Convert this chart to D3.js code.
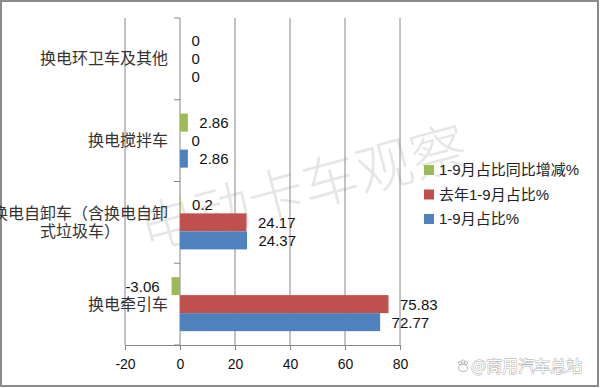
<!DOCTYPE html>
<html>
<head>
<meta charset="utf-8">
<script src="https://cdn.jsdelivr.net/npm/d3@7"></script>
<style>
  html, body { margin: 0; padding: 0; background: #fff; }
  svg { display: block; }
  text { font-family: "Liberation Sans", "Noto Sans CJK SC", sans-serif; }
  .cat { font-family: "Noto Sans CJK SC", sans-serif; }
</style>
</head>
<body>
<div id="chart"></div>
<script>
// categories, top to bottom (\n = line break in the label)
var categories = ["换电环卫车及其他", "换电搅拌车", "换电自卸车（含换电自卸\n式垃圾车）", "换电牵引车"];

// series, in the order they sit inside each group (top to bottom)
var seriesNames = ["1-9月占比同比增减%", "去年1-9月占比%", "1-9月占比%"];
var seriesColors = ["#9BBB59", "#C0504D", "#4F81BD"];
var yoyChange = [0, 2.86, 0.2, -3.06];
var lastYearShare = [0, 0, 24.17, 75.83];
var ytdShare = [0, 2.86, 24.37, 72.77];

var xTicks = [-20, 0, 20, 40, 60, 80];

var seriesValues = [yoyChange, lastYearShare, ytdShare];

var width = 600, height = 388;

var svg = d3.select("#chart").append("svg")
    .attr("width", width)
    .attr("height", height);

// frame
svg.append("rect")
    .attr("x", 1).attr("y", 1)
    .attr("width", width - 3).attr("height", height - 3)
    .attr("fill", "#fff")
    .attr("stroke", "#8c8c8c")
    .attr("stroke-width", 2);

// watermark
svg.append("text")
    .attr("transform", "translate(302,184) rotate(-15)")
    .attr("text-anchor", "middle")
    .attr("dominant-baseline", "central")
    .attr("class", "cat")
    .attr("font-size", 56)
    .attr("font-weight", 200)
    .attr("fill", "#e6e6e6")
    .text("电动卡车观察");

var x = d3.scaleLinear()
    .domain([-20, 80])
    .range([125, 400]);

var y = d3.scaleBand()
    .domain(categories)
    .range([18, 345])
    .padding(0);

var ySub = d3.scaleBand()
    .domain(d3.range(seriesNames.length))
    .range([0, y.bandwidth()])
    .paddingInner(0)
    .paddingOuter(0.77);

// gridlines
svg.append("g")
    .selectAll("line")
    .data(xTicks.filter(function(d){ return d !== 0; }))
    .enter().append("line")
    .attr("x1", function(d){ return x(d); })
    .attr("x2", function(d){ return x(d); })
    .attr("y1", 18)
    .attr("y2", 345)
    .attr("stroke", "#868686")
    .attr("stroke-width", 1);

// x axis
var xAxis = d3.axisBottom(x)
    .tickValues(xTicks)
    .tickFormat(function(d){ return String(d); })
    .tickSize(5)
    .tickPadding(9)
    .tickSizeOuter(0);

var gx = svg.append("g")
    .attr("transform", "translate(0,345)")
    .call(xAxis);
gx.select(".domain").attr("stroke", "#868686");
gx.selectAll(".tick line").attr("stroke", "#868686");
gx.selectAll(".tick text")
    .attr("font-size", 14)
    .attr("font-family", "Liberation Sans")
    .attr("fill", "#111");

// y axis at zero: line + ticks on band boundaries
svg.append("line")
    .attr("x1", x(0)).attr("x2", x(0))
    .attr("y1", 18).attr("y2", 345)
    .attr("stroke", "#868686");

var bounds = categories.map(function(c){ return y(c); }).concat([y.range()[1]]);
svg.append("g")
    .selectAll("line")
    .data(bounds)
    .enter().append("line")
    .attr("x1", x(0) - 6).attr("x2", x(0))
    .attr("y1", function(d){ return d; })
    .attr("y2", function(d){ return d; })
    .attr("stroke", "#868686");

// bars
var groups = svg.append("g")
    .selectAll("g")
    .data(categories)
    .enter().append("g")
    .attr("transform", function(d){ return "translate(0," + y(d) + ")"; });

groups.each(function(cat, ci){
    var g = d3.select(this);
    var rows = seriesValues.map(function(vals, si){ return {si: si, v: vals[ci]}; });

    g.selectAll("rect")
        .data(rows)
        .enter().append("rect")
        .attr("x", function(d){ return x(Math.min(0, d.v)); })
        .attr("y", function(d){ return ySub(d.si); })
        .attr("width", function(d){ return Math.abs(x(d.v) - x(0)); })
        .attr("height", ySub.bandwidth())
        .attr("fill", function(d){ return seriesColors[d.si]; });

    g.selectAll("text.val")
        .data(rows)
        .enter().append("text")
        .attr("class", "val")
        .attr("x", function(d){ return d.v < 0 ? x(d.v) - 12 : x(d.v) + 11.5; })
        .attr("y", function(d){ return ySub(d.si) + ySub.bandwidth() / 2; })
        .attr("dy", "0.36em")
        .attr("text-anchor", function(d){ return d.v < 0 ? "end" : "start"; })
        .attr("font-size", 15)
        .attr("fill", "#111")
        .text(function(d){ return d.v; });
});

// category labels
categories.forEach(function(cat){
    var lines = cat.split("\n");
    var cy = y(cat) + y.bandwidth() / 2;
    var lh = 18.5;
    var t = svg.append("text")
        .attr("class", "cat")
        .attr("font-size", 16)
        .attr("fill", "#333");
    var spans = lines.map(function(line, i){
        return t.append("tspan")
            .attr("y", cy + (i - (lines.length - 1) / 2) * lh)
            .attr("dy", "0.35em")
            .text(line);
    });
    var right = x(0) - 12;
    if (lines.length === 1) {
        spans[0].attr("x", right).attr("text-anchor", "end");
    } else {
        var w = d3.max(spans, function(s){ return s.node().getComputedTextLength(); });
        spans.forEach(function(s){
            s.attr("x", right - w / 2).attr("text-anchor", "middle");
        });
    }
});

// legend
var legend = svg.append("g")
    .attr("transform", "translate(424,170)");
var li = legend.selectAll("g")
    .data(seriesNames)
    .enter().append("g")
    .attr("transform", function(d, i){ return "translate(0," + (i * 24.5) + ")"; });
li.append("rect")
    .attr("x", 0).attr("y", -5)
    .attr("width", 10).attr("height", 10)
    .attr("fill", function(d, i){ return seriesColors[i]; });
li.append("text")
    .attr("x", 15)
    .attr("dy", "0.36em")
    .attr("font-size", 15)
    .attr("fill", "#222")
    .text(function(d){ return d; });

// bottom-right watermark
var wm = svg.append("g").attr("transform", "translate(463,366)");
[[-3,-3],[0,-4.5],[3,-3]].forEach(function(p){
    wm.append("circle").attr("cx", p[0]).attr("cy", p[1]).attr("r", 1.6)
      .attr("fill", "#fff").attr("stroke", "#aaa").attr("stroke-width", 0.8);
});
wm.append("ellipse").attr("cx", 0).attr("cy", 2).attr("rx", 4.5).attr("ry", 3.5)
  .attr("fill", "#fff").attr("stroke", "#aaa").attr("stroke-width", 0.8);
wm.append("text")
    .attr("x", 8)
    .attr("dy", "0.36em")
    .attr("class", "cat")
    .attr("font-size", 16)
    .attr("fill", "#fff")
    .attr("stroke", "#a8a8a8")
    .attr("stroke-width", 0.9)
    .attr("paint-order", "stroke")
    .text("@商用汽车总站");
</script>
</body>
</html>
